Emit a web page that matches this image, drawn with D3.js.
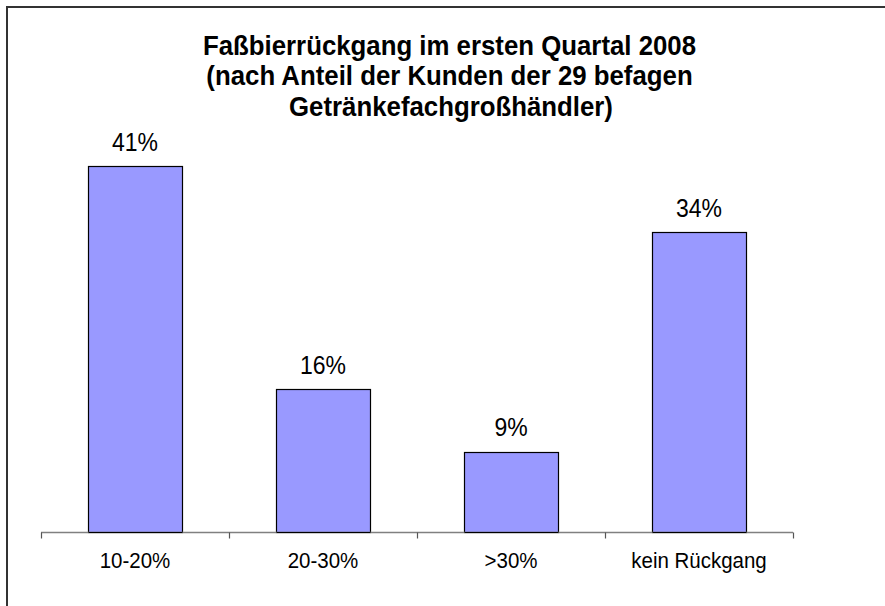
<!DOCTYPE html>
<html>
<head>
<meta charset="utf-8">
<script src="https://cdn.jsdelivr.net/npm/d3@7/dist/d3.min.js"></script>
<style>
  html, body { margin: 0; padding: 0; background: #fff; }
  svg { display: block; }
</style>
</head>
<body>
<svg id="chart" width="885" height="606"></svg>
<script>
const categories = ["10-20%", "20-30%", ">30%", "kein Rückgang"];
const values = [41, 16, 9, 33.6];
const valueLabels = ["41%", "16%", "9%", "34%"];
const titleLines = [
  "Faßbierrückgang im ersten Quartal 2008",
  "(nach Anteil der Kunden der 29 befagen",
  "Getränkefachgroßhändler)"
];

const svg = d3.select("#chart");
const W = 885, H = 606;
const FONT = "Liberation Sans, Arial, sans-serif";

// outer border (extends beyond the visible frame on right/bottom)
svg.append("rect")
  .attr("x", 7).attr("y", 7)
  .attr("width", W + 20).attr("height", H + 20)
  .attr("fill", "#fff")
  .attr("stroke", "#333")
  .attr("stroke-width", 2);

const plot = { left: 41, right: 793, bottom: 532 };
const x = d3.scaleBand().domain(categories).range([plot.left, plot.right]).paddingInner(0.5).paddingOuter(0.25);
const y = d3.scaleLinear().domain([0, 41]).range([plot.bottom, 166]);

// title
svg.append("g").selectAll("text")
  .data(titleLines)
  .join("text")
  .attr("transform", (d, i) => `translate(${i === 2 ? 451 : 449.5},${55 + i * 30.3}) scale(1,1.08)`)
  .attr("text-anchor", "middle")
  .attr("font-family", FONT)
  .attr("font-weight", "bold")
  .attr("font-size", 25.8)
  .attr("fill", "#000")
  .text(d => d);

// bars
svg.append("g").selectAll("rect")
  .data(values)
  .join("rect")
  .attr("x", (d, i) => Math.round(x(categories[i])) + 0.5)
  .attr("y", d => Math.round(y(d)) + 0.5)
  .attr("width", x.bandwidth())
  .attr("height", d => Math.round(plot.bottom) - Math.round(y(d)))
  .attr("fill", "#9999FF")
  .attr("stroke", "#000")
  .attr("stroke-width", 1.2);

// axis
const axisG = svg.append("g").attr("transform", `translate(0,${plot.bottom + 0.5})`);
const tickScale = d3.scalePoint().domain(d3.range(categories.length + 1)).range([plot.left, plot.right]);
axisG.append("line")
  .attr("x1", plot.left).attr("x2", plot.right)
  .attr("stroke", "#808080").attr("stroke-width", 1.5);
axisG.selectAll("line.tick")
  .data(tickScale.domain())
  .join("line")
  .attr("class", "tick")
  .attr("x1", d => Math.round(tickScale(d)) + 0.5)
  .attr("x2", d => Math.round(tickScale(d)) + 0.5)
  .attr("y1", 0).attr("y2", 6)
  .attr("stroke", "#555").attr("stroke-width", 1.2);

// bar bottom edge over axis
svg.append("g").selectAll("line")
  .data(values)
  .join("line")
  .attr("x1", (d, i) => Math.round(x(categories[i])) + 0.5)
  .attr("x2", (d, i) => Math.round(x(categories[i])) + 0.5 + x.bandwidth())
  .attr("y1", plot.bottom + 0.5).attr("y2", plot.bottom + 0.5)
  .attr("stroke", "#000").attr("stroke-width", 1.2);

// category labels
svg.append("g").selectAll("text")
  .data(categories)
  .join("text")
  .attr("transform", d => `translate(${x(d) + x.bandwidth() / 2},568) scale(1,1.1)`)
  .attr("text-anchor", "middle")
  .attr("font-family", FONT)
  .attr("font-size", 20.5)
  .attr("fill", "#000")
  .text(d => d);

// value labels
svg.append("g").selectAll("text")
  .data(values)
  .join("text")
  .attr("transform", (d, i) => `translate(${x(categories[i]) + x.bandwidth() / 2},${y(d) - 15.5}) scale(1,1.1)`)
  .attr("text-anchor", "middle")
  .attr("font-family", FONT)
  .attr("font-size", 23)
  .attr("fill", "#000")
  .text((d, i) => valueLabels[i]);
</script>
</body>
</html>
